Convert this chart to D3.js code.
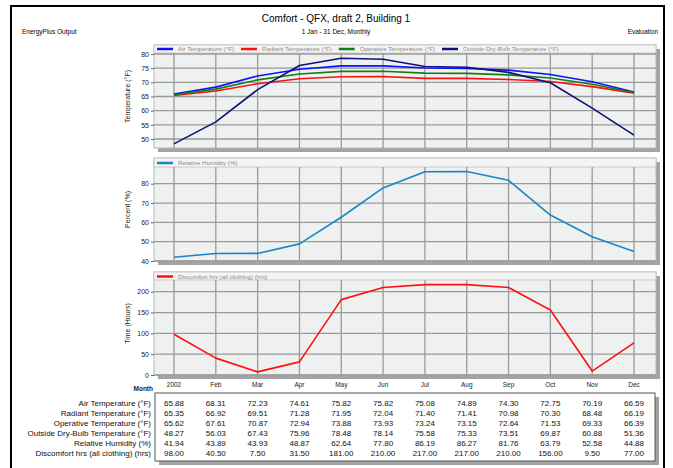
<!DOCTYPE html>
<html><head><meta charset="utf-8">
<script src="https://cdn.jsdelivr.net/npm/d3@7"></script>
<style>
body{margin:0;background:#fff;}
svg{display:block;font-family:"Liberation Sans",Arial,sans-serif;}
</style></head><body>
<svg id="c" width="673" height="468"></svg>
<script>
const months = ["2002","Feb","Mar","Apr","May","Jun","Jul","Aug","Sep","Oct","Nov","Dec"];
const airTemp = [65.88,68.31,72.23,74.61,75.82,75.82,75.08,74.89,74.30,72.75,70.19,66.59];
const radiantTemp = [65.35,66.92,69.51,71.28,71.95,72.04,71.40,71.41,70.98,70.30,68.48,66.19];
const operativeTemp = [65.62,67.61,70.87,72.94,73.88,73.93,73.24,73.15,72.64,71.53,69.33,66.39];
const outsideTemp = [48.27,56.03,67.43,75.96,78.48,78.14,75.58,75.33,73.51,69.87,60.88,51.36];
const relHumidity = [41.94,43.89,43.93,48.87,62.64,77.80,86.19,86.27,81.76,63.79,52.58,44.88];
const discomfort = [98.00,40.50,7.50,31.50,181.00,210.00,217.00,217.00,210.00,156.00,9.50,77.00];
const tempTicks = [50,55,60,65,70,75,80];
const rhTicks = [40,50,60,70,80];
const timeTicks = [0,50,100,150,200];

const svg = d3.select("#c");
const L = 154, R = 656;
const x = d3.scalePoint().domain(months).range([174, 634]);

// outer frame
svg.append("path").attr("d","M11,470 L11,6 L664,6 L664,470").attr("fill","none").attr("stroke","#000").attr("stroke-width",2);

svg.append("text").attr("x",336).attr("y",22).attr("text-anchor","middle").attr("font-size",10).attr("fill","#000").text("Comfort - QFX, draft 2, Building 1");
svg.append("text").attr("x",336).attr("y",34).attr("text-anchor","middle").attr("font-size",6.5).attr("fill","#000").text("1 Jan - 31 Dec, Monthly");
svg.append("text").attr("x",22).attr("y",34).attr("font-size",6.5).attr("fill","#000").text("EnergyPlus Output");
svg.append("text").attr("x",658).attr("y",34).attr("text-anchor","end").attr("font-size",6.5).attr("fill","#000").text("Evaluation");

function panel(cfg){
  const {top,bottom,y,ticks,title,series,legendY,gridTop} = cfg;
  const g = svg.append("g");
  // shadow
  g.append("rect").attr("x",L+4).attr("y",top+4).attr("width",R-L).attr("height",bottom-top).attr("fill","#a3a3a3");
  g.append("rect").attr("x",L).attr("y",top).attr("width",R-L).attr("height",bottom-top).attr("fill","#eff0f0").attr("stroke","#b8b8b8").attr("stroke-width",1);
  // legend strip
  g.append("rect").attr("x",L).attr("y",top).attr("width",R-L).attr("height",gridTop-top).attr("fill","#f4f4f4").attr("stroke","#c0c0c0").attr("stroke-width",0.8);
  // grid
  g.selectAll("line.v").data(months).join("line").attr("x1",d=>x(d)).attr("x2",d=>x(d)).attr("y1",gridTop).attr("y2",bottom).attr("stroke","#9a9a9a").attr("stroke-width",1.3);
  g.selectAll("line.h").data(ticks).join("line").attr("x1",L).attr("x2",R).attr("y1",d=>y(d)).attr("y2",d=>y(d)).attr("stroke","#9a9a9a").attr("stroke-width",1.3);
  // axis
  const ax = d3.axisLeft(y).tickValues(ticks).tickSize(3).tickPadding(2);
  const a = g.append("g").attr("transform",`translate(${L},0)`).call(ax);
  a.select(".domain").remove();
  a.selectAll("line").attr("stroke","#666");
  a.selectAll("text").attr("font-size",7).attr("fill","#222").attr("font-family","Liberation Sans, Arial, sans-serif");
  g.append("text").attr("transform",`translate(130,${(top+bottom)/2}) rotate(-90)`).attr("text-anchor","middle").attr("font-size",7).attr("fill","#222").text(title);
  // lines
  series.forEach(s=>{
    const line = d3.line().x((d,i)=>x(months[i])).y(d=>y(d));
    g.append("path").datum(s.values).attr("d",line).attr("fill","none").attr("stroke",s.color).attr("stroke-width",s.w||1.6).attr("stroke-linejoin","round");
  });
  // legend
  let lx = L+3;
  series.forEach(s=>{
    g.append("line").attr("x1",lx).attr("x2",lx+16).attr("y1",legendY).attr("y2",legendY).attr("stroke",s.color).attr("stroke-width",2.5);
    const t = g.append("text").attr("x",lx+21).attr("y",legendY+2.3).attr("font-size",6.2).attr("fill","#8a8a8a").text(s.name);
    lx += 21 + t.node().getComputedTextLength() + 7;
  });
}

panel({top:45,bottom:148,gridTop:53,legendY:49,
  y:d3.scaleLinear().domain([50,80]).range([139,54]),ticks:tempTicks,title:"Temperature (°F)",
  series:[
    {name:"Air Temperature (°F)",values:airTemp,color:"#1010ff"},
    {name:"Radiant Temperature (°F)",values:radiantTemp,color:"#ff1010"},
    {name:"Operative Temperature (°F)",values:operativeTemp,color:"#108010"},
    {name:"Outside Dry-Bulb Temperature (°F)",values:outsideTemp,color:"#10107a"}
  ]});
panel({top:158,bottom:261,gridTop:167,legendY:163,
  y:d3.scaleLinear().domain([40,80]).range([261,183.7]),ticks:rhTicks,title:"Percent (%)",
  series:[{name:"Relative Humidity (%)",values:relHumidity,color:"#1a86c6"}]});
panel({top:272,bottom:375,gridTop:280,legendY:276.5,
  y:d3.scaleLinear().domain([0,200]).range([375,291.7]),ticks:timeTicks,title:"Time (Hours)",
  series:[{name:"Discomfort hrs (all clothing) (hrs)",values:discomfort,color:"#ff1010"}]});

// month labels
svg.selectAll("text.m").data(months).join("text").attr("x",d=>x(d)).attr("y",387).attr("text-anchor","middle").attr("font-size",6.5).attr("fill","#222").text(d=>d);
svg.append("text").attr("x",153).attr("y",391).attr("text-anchor","end").attr("font-size",6.5).attr("font-weight","bold").attr("fill","#222").text("Month");

// table
const rowNames = ["Air Temperature (°F)","Radiant Temperature (°F)","Operative Temperature (°F)","Outside Dry-Bulb Temperature (°F)","Relative Humidity (%)","Discomfort hrs (all clothing) (hrs)"];
const rows = [airTemp,radiantTemp,operativeTemp,outsideTemp,relHumidity,discomfort];
svg.append("rect").attr("x",159).attr("y",397).attr("width",500).attr("height",68).attr("fill","#a3a3a3");
svg.append("rect").attr("x",155).attr("y",393).attr("width",500).attr("height",68).attr("fill","#fff").attr("stroke","#555").attr("stroke-width",1);
rows.forEach((r,ri)=>{
  const yy = 406 + ri*9.9;
  svg.append("text").attr("x",151).attr("y",yy).attr("text-anchor","end").attr("font-size",8).attr("fill","#111").text(rowNames[ri]);
  svg.selectAll(null).data(r).join("text").attr("x",(d,i)=>x(months[i])).attr("y",yy).attr("text-anchor","middle").attr("font-size",8).attr("fill","#111").text(d=>d.toFixed(2));
});
</script>
</body></html>
